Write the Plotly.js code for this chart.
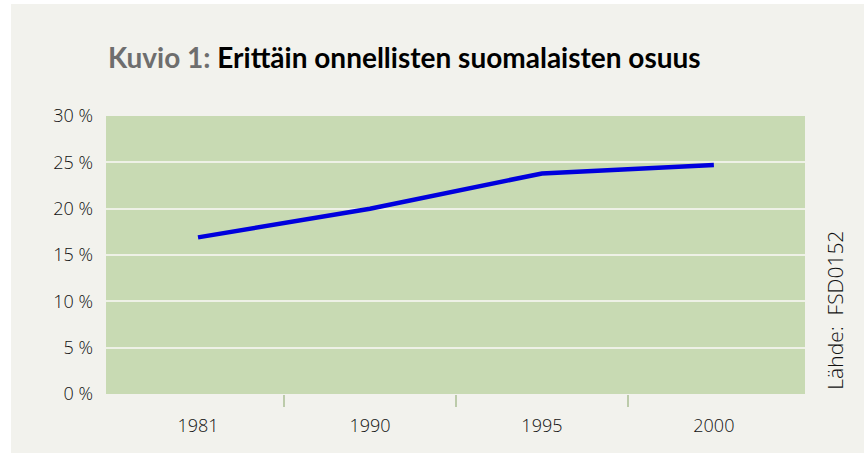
<!DOCTYPE html>
<html>
<head>
<meta charset="utf-8">
<script src="https://cdn.plot.ly/plotly-3.0.1.min.js"></script>
<style>
html, body { margin: 0; padding: 0; background: #ffffff; width: 864px; height: 453px; overflow: hidden; }
#chart { position: absolute; left: 11px; top: 4px; width: 853px; height: 449px; }
</style>
</head>
<body>
<div id="chart"></div>
<script>
const years = ["1981", "1990", "1995", "2000"];
const shareVeryHappy = [16.9, 20.0, 23.8, 24.7];
const yTickVals = [0, 5, 10, 15, 20, 25, 30];
const yTickText = ["0 %", "5 %", "10 %", "15 %", "20 %", "25 %", "30 %"];
const titlePrefix = "Kuvio 1:";
const titleMain = "Erittäin onnellisten suomalaisten osuus";
const sourceText = "Lähde:  FSD0152";

const xIdx = years.map((_, i) => i);
const boundaryTicks = years.slice(1).map((_, i) => i + 0.5);

const trace = {
  x: xIdx,
  y: shareVeryHappy,
  type: "scatter",
  mode: "lines",
  line: { color: "#0000dd", width: 4.5 },
  hoverinfo: "skip"
};
// invisible trace to activate the boundary-tick axis
const tickTrace = {
  x: boundaryTicks,
  y: boundaryTicks.map(() => null),
  xaxis: "x2",
  type: "scatter",
  mode: "lines",
  hoverinfo: "skip",
  showlegend: false
};

const xRange = [-0.535, 3.53];
const tickFont = { family: "'Open Sans', Lato, sans-serif", size: 18, color: "#111111", weight: 300 };

const layout = {
  width: 853,
  height: 449,
  paper_bgcolor: "#f2f2ed",
  plot_bgcolor: "#c8dab3",
  margin: { l: 95, r: 59, t: 112, b: 59 },
  showlegend: false,
  font: tickFont,
  title: {
    text: '<span style="color:#6e6e6e">' + titlePrefix + '</span> ' + titleMain,
    font: { family: "Lato, 'Open Sans', sans-serif", size: 28, color: "#000000", weight: "bold" },
    x: 0, xref: "paper", xanchor: "left",
    y: 1, yref: "container", yanchor: "top",
    pad: { t: 44, l: 2 }
  },
  xaxis: {
    range: xRange,
    tickvals: xIdx,
    ticktext: years,
    showgrid: false,
    zeroline: false,
    showline: false,
    ticks: "",
    ticklabelstandoff: 19,
    tickfont: tickFont,
    fixedrange: true
  },
  xaxis2: {
    overlaying: "x",
    matches: "x",
    range: xRange,
    side: "bottom",
    tickvals: boundaryTicks,
    showticklabels: false,
    showgrid: false,
    zeroline: false,
    showline: false,
    ticks: "outside",
    ticklen: 12,
    tickwidth: 2,
    tickcolor: "#bccbaa",
    fixedrange: true
  },
  yaxis: {
    range: [0, 30],
    tickvals: yTickVals,
    ticktext: yTickText,
    showgrid: true,
    gridcolor: "#eef1e6",
    gridwidth: 2,
    zeroline: false,
    showline: false,
    ticks: "",
    ticklabelstandoff: 12,
    tickfont: tickFont,
    fixedrange: true
  },
  annotations: [{
    text: sourceText,
    xref: "paper", yref: "paper",
    x: 1.043, y: 0.30,
    xanchor: "center", yanchor: "middle",
    textangle: -90,
    showarrow: false,
    font: { family: "'Open Sans', Lato, sans-serif", size: 21, color: "#111111", weight: 300 }
  }]
};

Plotly.newPlot("chart", [trace, tickTrace], layout, { displayModeBar: false, staticPlot: true });
</script>
</body>
</html>
